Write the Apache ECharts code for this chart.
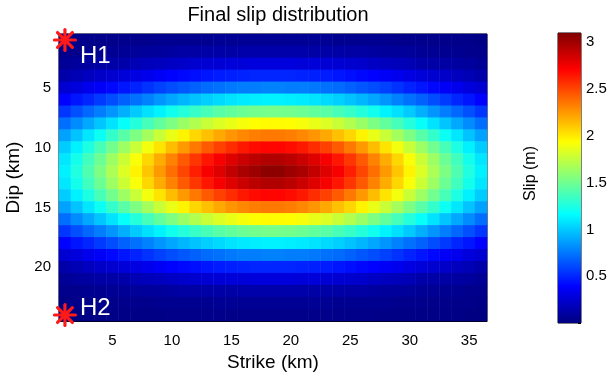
<!DOCTYPE html>
<html>
<head>
<meta charset="utf-8">
<script src="https://cdn.jsdelivr.net/npm/echarts@6/dist/echarts.min.js"></script>
<style>
  html, body { margin: 0; padding: 0; background: #fff; }
  #chart { width: 608px; height: 379px; }
</style>
</head>
<body>
<div id="chart"></div>
<script>
// Along-strike cell positions (km) and down-dip cell positions (km)
var strikeKm = [];
for (var i = 1; i <= 36; i++) strikeKm.push(String(i));
var dipKm = [];
for (var j = 1; j <= 24; j++) dipKm.push(String(j));

var strikeTicks = [5, 10, 15, 20, 25, 30, 35];
var dipTicks = [5, 10, 15, 20];
var slipTicks = [0.5, 1, 1.5, 2, 2.5, 3];
var slipRange = [0, 3.1];

// Final slip (m) on each fault cell, one row per dip km (top to bottom)
var slip = [
  [0.02,0.03,0.03,0.03,0.03,0.04,0.04,0.04,0.05,0.05,0.05,0.05,0.05,0.06,0.06,0.06,0.06,0.06,0.06,0.06,0.06,0.06,0.06,0.05,0.05,0.05,0.05,0.05,0.04,0.04,0.04,0.03,0.03,0.03,0.03,0.02],
  [0.04,0.04,0.05,0.05,0.06,0.07,0.08,0.09,0.09,0.10,0.11,0.11,0.12,0.12,0.12,0.13,0.13,0.13,0.13,0.13,0.13,0.12,0.12,0.12,0.11,0.11,0.10,0.09,0.09,0.08,0.07,0.06,0.05,0.05,0.04,0.04],
  [0.07,0.09,0.10,0.11,0.12,0.13,0.16,0.18,0.19,0.21,0.23,0.24,0.25,0.26,0.27,0.27,0.28,0.28,0.28,0.28,0.27,0.27,0.26,0.25,0.24,0.23,0.21,0.19,0.18,0.16,0.13,0.12,0.11,0.10,0.09,0.07],
  [0.13,0.16,0.19,0.22,0.24,0.27,0.30,0.33,0.36,0.39,0.41,0.43,0.45,0.47,0.48,0.49,0.50,0.50,0.50,0.50,0.49,0.48,0.47,0.45,0.43,0.41,0.39,0.36,0.33,0.30,0.27,0.24,0.22,0.19,0.16,0.13],
  [0.25,0.28,0.33,0.37,0.41,0.45,0.49,0.54,0.58,0.62,0.65,0.68,0.71,0.73,0.75,0.77,0.77,0.78,0.78,0.77,0.77,0.75,0.73,0.71,0.68,0.65,0.62,0.58,0.54,0.49,0.45,0.41,0.37,0.33,0.28,0.25],
  [0.39,0.45,0.50,0.56,0.62,0.68,0.73,0.78,0.84,0.89,0.94,0.98,1.02,1.05,1.08,1.10,1.11,1.12,1.12,1.11,1.10,1.08,1.05,1.02,0.98,0.94,0.89,0.84,0.78,0.73,0.68,0.62,0.56,0.50,0.45,0.39],
  [0.55,0.63,0.70,0.77,0.84,0.92,1.00,1.07,1.13,1.21,1.27,1.33,1.38,1.43,1.46,1.49,1.51,1.52,1.52,1.51,1.49,1.46,1.43,1.38,1.33,1.27,1.21,1.13,1.07,1.00,0.92,0.84,0.77,0.70,0.63,0.55],
  [0.72,0.81,0.90,0.99,1.08,1.18,1.27,1.37,1.46,1.54,1.63,1.70,1.77,1.83,1.87,1.91,1.94,1.95,1.95,1.94,1.91,1.87,1.83,1.77,1.70,1.63,1.54,1.46,1.37,1.27,1.18,1.08,0.99,0.90,0.81,0.72],
  [0.88,0.98,1.09,1.20,1.32,1.43,1.54,1.66,1.77,1.87,1.97,2.06,2.13,2.20,2.26,2.30,2.33,2.35,2.35,2.33,2.30,2.26,2.20,2.13,2.06,1.97,1.87,1.77,1.66,1.54,1.43,1.32,1.20,1.09,0.98,0.88],
  [1.01,1.12,1.25,1.38,1.51,1.64,1.77,1.90,2.02,2.14,2.25,2.35,2.44,2.52,2.58,2.64,2.68,2.70,2.70,2.68,2.64,2.58,2.52,2.44,2.35,2.25,2.14,2.02,1.90,1.77,1.64,1.51,1.38,1.25,1.12,1.01],
  [1.09,1.22,1.36,1.49,1.64,1.78,1.92,2.06,2.19,2.32,2.44,2.55,2.65,2.74,2.81,2.87,2.92,2.95,2.95,2.92,2.87,2.81,2.74,2.65,2.55,2.44,2.32,2.19,2.06,1.92,1.78,1.64,1.49,1.36,1.22,1.09],
  [1.12,1.26,1.40,1.54,1.68,1.83,1.97,2.11,2.25,2.38,2.50,2.62,2.73,2.81,2.90,2.97,3.01,3.06,3.06,3.01,2.97,2.90,2.81,2.73,2.62,2.50,2.38,2.25,2.11,1.97,1.83,1.68,1.54,1.40,1.26,1.12],
  [1.09,1.22,1.36,1.49,1.64,1.78,1.92,2.06,2.19,2.32,2.44,2.55,2.65,2.74,2.81,2.87,2.92,2.95,2.95,2.92,2.87,2.81,2.74,2.65,2.55,2.44,2.32,2.19,2.06,1.92,1.78,1.64,1.49,1.36,1.22,1.09],
  [1.01,1.12,1.25,1.38,1.51,1.64,1.77,1.90,2.02,2.14,2.25,2.35,2.44,2.52,2.58,2.64,2.68,2.70,2.70,2.68,2.64,2.58,2.52,2.44,2.35,2.25,2.14,2.02,1.90,1.77,1.64,1.51,1.38,1.25,1.12,1.01],
  [0.88,0.98,1.09,1.20,1.32,1.43,1.54,1.66,1.77,1.87,1.97,2.06,2.13,2.20,2.26,2.30,2.33,2.35,2.35,2.33,2.30,2.26,2.20,2.13,2.06,1.97,1.87,1.77,1.66,1.54,1.43,1.32,1.20,1.09,0.98,0.88],
  [0.72,0.81,0.90,0.99,1.08,1.18,1.27,1.37,1.46,1.54,1.63,1.70,1.77,1.83,1.87,1.91,1.94,1.95,1.95,1.94,1.91,1.87,1.83,1.77,1.70,1.63,1.54,1.46,1.37,1.27,1.18,1.08,0.99,0.90,0.81,0.72],
  [0.55,0.63,0.70,0.77,0.84,0.92,1.00,1.07,1.13,1.21,1.27,1.33,1.38,1.43,1.46,1.49,1.51,1.52,1.52,1.51,1.49,1.46,1.43,1.38,1.33,1.27,1.21,1.13,1.07,1.00,0.92,0.84,0.77,0.70,0.63,0.55],
  [0.39,0.45,0.50,0.56,0.62,0.68,0.73,0.78,0.84,0.89,0.94,0.98,1.02,1.05,1.08,1.10,1.11,1.12,1.12,1.11,1.10,1.08,1.05,1.02,0.98,0.94,0.89,0.84,0.78,0.73,0.68,0.62,0.56,0.50,0.45,0.39],
  [0.25,0.28,0.33,0.37,0.41,0.45,0.49,0.54,0.58,0.62,0.65,0.68,0.71,0.73,0.75,0.77,0.77,0.78,0.78,0.77,0.77,0.75,0.73,0.71,0.68,0.65,0.62,0.58,0.54,0.49,0.45,0.41,0.37,0.33,0.28,0.25],
  [0.13,0.16,0.19,0.22,0.24,0.27,0.30,0.33,0.36,0.39,0.41,0.43,0.45,0.47,0.48,0.49,0.50,0.50,0.50,0.50,0.49,0.48,0.47,0.45,0.43,0.41,0.39,0.36,0.33,0.30,0.27,0.24,0.22,0.19,0.16,0.13],
  [0.07,0.09,0.10,0.11,0.12,0.13,0.16,0.18,0.19,0.21,0.23,0.24,0.25,0.26,0.27,0.27,0.28,0.28,0.28,0.28,0.27,0.27,0.26,0.25,0.24,0.23,0.21,0.19,0.18,0.16,0.13,0.12,0.11,0.10,0.09,0.07],
  [0.04,0.04,0.05,0.05,0.06,0.07,0.08,0.09,0.09,0.10,0.11,0.11,0.12,0.12,0.12,0.13,0.13,0.13,0.13,0.13,0.13,0.12,0.12,0.12,0.11,0.11,0.10,0.09,0.09,0.08,0.07,0.06,0.05,0.05,0.04,0.04],
  [0.02,0.03,0.03,0.03,0.03,0.04,0.04,0.04,0.05,0.05,0.05,0.05,0.05,0.06,0.06,0.06,0.06,0.06,0.06,0.06,0.06,0.06,0.06,0.05,0.05,0.05,0.05,0.05,0.04,0.04,0.04,0.03,0.03,0.03,0.03,0.02],
  [0.01,0.01,0.02,0.02,0.02,0.02,0.02,0.02,0.02,0.03,0.03,0.03,0.03,0.03,0.03,0.03,0.03,0.03,0.03,0.03,0.03,0.03,0.03,0.03,0.03,0.03,0.03,0.02,0.02,0.02,0.02,0.02,0.02,0.02,0.01,0.01]
];

// Hypocentres (strike km, dip km) and their names
var hypoNames = ['H1', 'H2'];
var hypoStrike = [1, 1];
var hypoDip = [1, 24];

// MATLAB "jet" colormap sampled at equal steps
var jet = ['#000080', '#0000ff', '#0080ff', '#00ffff', '#80ff80',
           '#ffff00', '#ff8000', '#ff0000', '#800000'];

var FONT = '"Liberation Sans", Arial, Helvetica, sans-serif';

var heatData = [];
for (var r = 0; r < slip.length; r++) {
  for (var c = 0; c < slip[r].length; c++) {
    heatData.push([c, r, slip[r][c]]);
  }
}

var hypoData = hypoNames.map(function (n, k) {
  return [strikeKm.indexOf(String(hypoStrike[k])), dipKm.indexOf(String(hypoDip[k])), n];
});
// label placement relative to each star (px)
var hypoLabelOffset = { H1: [15, 16], H2: [15, -7] };

var chart = echarts.init(document.getElementById('chart'), null, { renderer: 'canvas' });

var colorStops = jet.slice().reverse().map(function (col, k, arr) {
  return { offset: k / (arr.length - 1), color: col };
});

chart.setOption({
  animation: false,
  backgroundColor: '#ffffff',
  textStyle: { fontFamily: FONT },
  title: {
    text: 'Final slip distribution',
    left: 273, top: 0, textAlign: 'center',
    textStyle: { fontFamily: FONT, fontSize: 20, fontWeight: 'normal', color: '#000' }
  },
  grid: [
    { left: 59, top: 34, width: 428, height: 287, outerBoundsMode: 'none',
      show: true, borderColor: '#000', borderWidth: 1, backgroundColor: 'transparent' },
    { left: 558, top: 33, width: 23, height: 290, outerBoundsMode: 'none',
      show: true, borderColor: '#000', borderWidth: 1, backgroundColor: 'transparent' }
  ],
  graphic: [
    {
      type: 'text', left: 523, top: 178 - 32, rotation: Math.PI / 2,
      style: { text: 'Slip (m)', font: '16px ' + FONT, fill: '#000' }
    }
  ],
  xAxis: [
    {
      type: 'category', gridIndex: 0, data: strikeKm, boundaryGap: true,
      name: 'Strike (km)', nameLocation: 'middle', nameGap: 30,
      nameTextStyle: { fontFamily: FONT, fontSize: 19, color: '#000' },
      axisLine: { show: true, lineStyle: { color: '#000', width: 1 } },
      axisTick: { show: false },
      splitLine: { show: false },
      axisLabel: {
        fontFamily: FONT, fontSize: 15, color: '#000', margin: 12,
        interval: function (idx, val) { return strikeTicks.indexOf(Number(val)) >= 0; }
      }
    },
    {
      type: 'category', gridIndex: 1, data: [''],
      axisLine: { show: false }, axisTick: { show: false }, axisLabel: { show: false }
    }
  ],
  yAxis: [
    {
      type: 'category', gridIndex: 0, data: dipKm, inverse: true, boundaryGap: true,
      name: 'Dip (km)', nameLocation: 'middle', nameGap: 34, nameRotate: 90,
      nameTextStyle: { fontFamily: FONT, fontSize: 19, color: '#000' },
      axisLine: { show: true, lineStyle: { color: '#000', width: 1 } },
      axisTick: { show: false },
      splitLine: { show: false },
      axisLabel: {
        fontFamily: FONT, fontSize: 15, color: '#000', margin: 8,
        interval: function (idx, val) { return dipTicks.indexOf(Number(val)) >= 0; }
      }
    },
    {
      type: 'value', gridIndex: 1, position: 'right',
      min: slipRange[0], max: slipRange[1], interval: 0.5,
      axisLine: { show: false },
      axisTick: { show: true, inside: true, length: 3, lineStyle: { color: '#000' } },
      splitLine: { show: false },
      axisLabel: {
        fontFamily: FONT, fontSize: 15, color: '#000', margin: 5,
        formatter: function (v) { return slipTicks.indexOf(v) >= 0 ? String(v) : ''; }
      }
    }
  ],
  visualMap: {
    show: false, type: 'continuous', seriesIndex: 0,
    min: slipRange[0], max: slipRange[1],
    inRange: { color: jet }
  },
  series: [
    {
      type: 'heatmap', xAxisIndex: 0, yAxisIndex: 0,
      data: heatData, itemStyle: { borderWidth: 0 },
      emphasis: { disabled: true }, progressive: 0
    },
    {
      type: 'bar', xAxisIndex: 1, yAxisIndex: 1,
      data: [slipRange[1]], barWidth: '100%', silent: true,
      itemStyle: {
        color: new echarts.graphic.LinearGradient(0, 0, 0, 1, colorStops)
      }
    },
    {
      type: 'custom', xAxisIndex: 0, yAxisIndex: 0, z: 10, silent: true,
      data: hypoData,
      renderItem: function (params, api) {
        var p = api.coord([api.value(0), api.value(1)]);
        var rad = 10.5;
        var kids = [];
        for (var a = 0; a < 4; a++) {
          var ang = a * Math.PI / 4;
          kids.push({
            type: 'line',
            shape: {
              x1: p[0] - rad * Math.cos(ang), y1: p[1] - rad * Math.sin(ang),
              x2: p[0] + rad * Math.cos(ang), y2: p[1] + rad * Math.sin(ang)
            },
            style: { stroke: '#ff1a1a', lineWidth: 3.2, lineCap: 'round' }
          });
        }
        var name = hypoData[params.dataIndex][2];
        var off = hypoLabelOffset[name];
        kids.push({
          type: 'text',
          x: p[0] + off[0], y: p[1] + off[1],
          style: {
            text: name, fill: '#ffffff', font: '24px ' + FONT,
            textAlign: 'left', textVerticalAlign: 'middle'
          }
        });
        return { type: 'group', children: kids };
      }
    }
  ]
});
</script>
</body>
</html>
